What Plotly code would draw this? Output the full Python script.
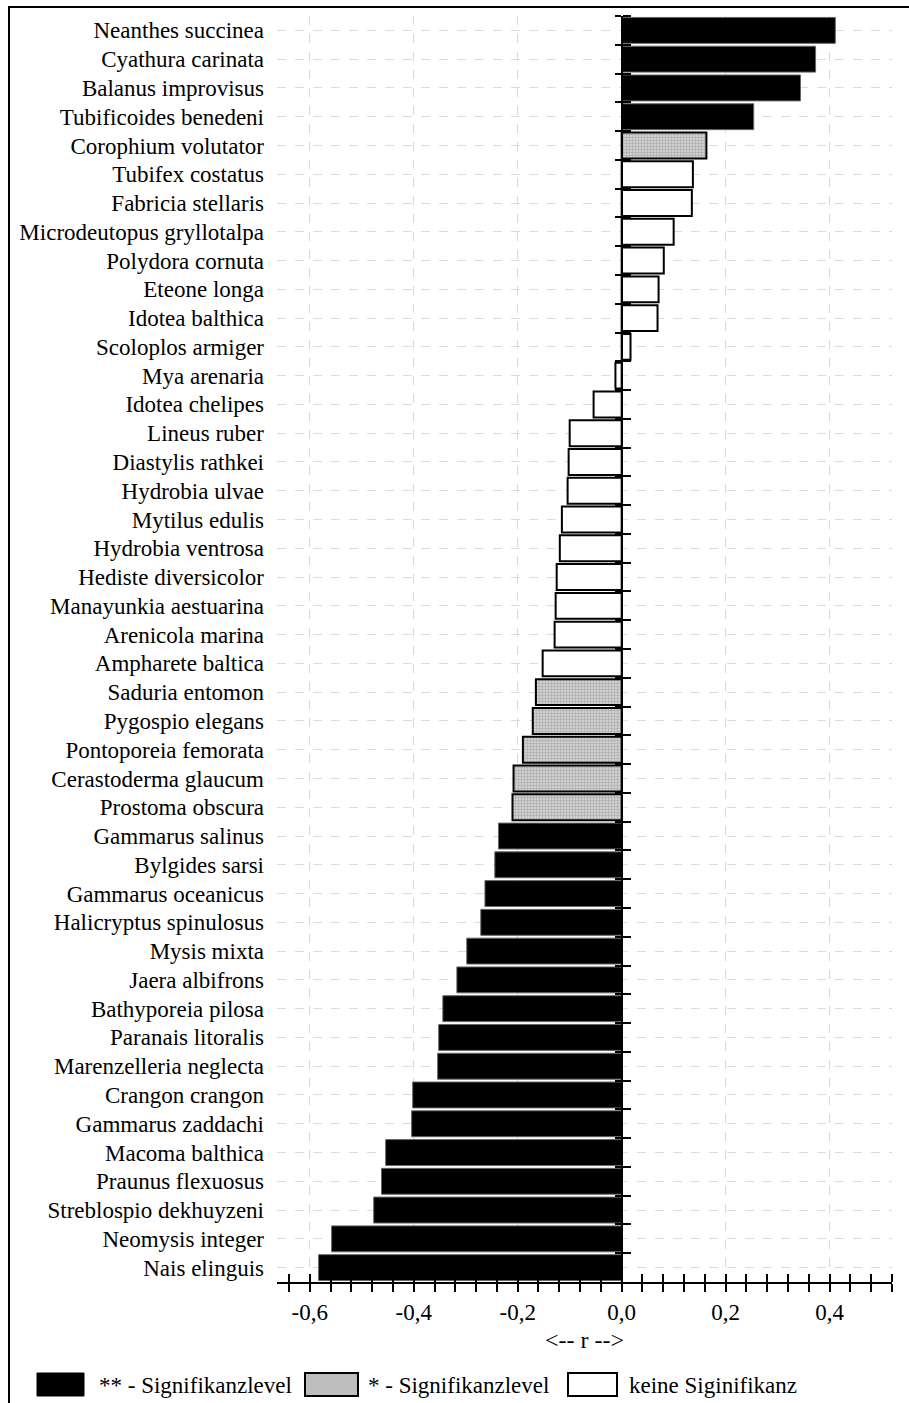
import plotly.graph_objects as go

# ---------------- data ----------------
species = [
    "Neanthes succinea", "Cyathura carinata", "Balanus improvisus", "Tubificoides benedeni",
    "Corophium volutator", "Tubifex costatus", "Fabricia stellaris", "Microdeutopus gryllotalpa",
    "Polydora cornuta", "Eteone longa", "Idotea balthica", "Scoloplos armiger", "Mya arenaria",
    "Idotea chelipes", "Lineus ruber", "Diastylis rathkei", "Hydrobia ulvae", "Mytilus edulis",
    "Hydrobia ventrosa", "Hediste diversicolor", "Manayunkia aestuarina", "Arenicola marina",
    "Ampharete baltica", "Saduria entomon", "Pygospio elegans", "Pontoporeia femorata",
    "Cerastoderma glaucum", "Prostoma obscura", "Gammarus salinus", "Bylgides sarsi",
    "Gammarus oceanicus", "Halicryptus spinulosus", "Mysis mixta", "Jaera albifrons",
    "Bathyporeia pilosa", "Paranais litoralis", "Marenzelleria neglecta", "Crangon crangon",
    "Gammarus zaddachi", "Macoma balthica", "Praunus flexuosus", "Streblospio dekhuyzeni",
    "Neomysis integer", "Nais elinguis",
]
r_values = [
    0.411, 0.373, 0.344, 0.254,
    0.163, 0.137, 0.135, 0.100,
    0.081, 0.071, 0.069, 0.017, -0.012,
    -0.054, -0.100, -0.102, -0.104, -0.115,
    -0.119, -0.125, -0.127, -0.129,
    -0.152, -0.165, -0.171, -0.190,
    -0.208, -0.210, -0.237, -0.244,
    -0.263, -0.271, -0.298, -0.317,
    -0.344, -0.352, -0.354, -0.402,
    -0.404, -0.454, -0.462, -0.477,
    -0.558, -0.583,
]
# 2 = ** significance, 1 = * significance, 0 = none
signif = [2, 2, 2, 2, 1] + [0] * 18 + [1] * 5 + [2] * 16
level_names = ["** - Signifikanzlevel", "* - Signifikanzlevel", "keine Siginifikanz"]
x_tickvals = [-0.6, -0.4, -0.2, 0.0, 0.2, 0.4]
x_ticktext = ["-0,6", "-0,4", "-0,2", "0,0", "0,2", "0,4"]
axis_title = "<-- r -->"

# ---------------- layout geometry ----------------
W, H = 909, 1403
PL, PR, PT, PB = 277, 892, 16, 1282
x_range = [-0.663, 0.52]
n = len(species)
y_range = [n - 0.5, -0.5]
FONT = "Liberation Serif"


def px(xp):
    return (xp - PL) / (PR - PL)


def py(yp):
    return (PB - yp) / (PB - PT)


styles = {
    2: dict(color="black", line=dict(color="#666666", width=1)),
    1: dict(color="#c8c8c8", line=dict(color="black", width=2),
            pattern=dict(shape="+", fgcolor="#888888", bgcolor="#d0d0d0", size=3, solidity=0.4)),
    0: dict(color="white", line=dict(color="black", width=2)),
}

fig = go.Figure()
for lvl, name in zip([2, 1, 0], level_names):
    ys = [s for s, g in zip(species, signif) if g == lvl]
    xs = [v for v, g in zip(r_values, signif) if g == lvl]
    fig.add_trace(go.Bar(x=xs, y=ys, orientation="h", name=name, width=0.9,
                         marker=styles[lvl], showlegend=False))

# empty traces to attach the overlay axes (tick crossings)
fig.add_trace(go.Scatter(x=[], y=[], xaxis="x2", yaxis="y", showlegend=False, hoverinfo="skip"))
fig.add_trace(go.Scatter(x=[], y=[], xaxis="x", yaxis="y2", showlegend=False, hoverinfo="skip"))
fig.add_trace(go.Scatter(x=[], y=[], xaxis="x", yaxis="y3", showlegend=False, hoverinfo="skip"))

zero_pos = (0 - x_range[0]) / (x_range[1] - x_range[0])
boundaries = [i - 0.5 for i in range(n)]

minor_common = dict(tickmode="linear", tick0=0, dtick=0.04, ticklen=8, tickwidth=2,
                    tickcolor="black", showgrid=False)

fig.update_layout(
    width=W, height=H,
    margin=dict(l=PL, r=W - PR, t=PT, b=H - PB),
    paper_bgcolor="white", plot_bgcolor="white",
    barmode="overlay",
    font=dict(family=FONT, color="black", size=22),
    xaxis=dict(range=x_range, tickmode="array", tickvals=x_tickvals, ticktext=x_ticktext,
               ticks="", showline=True, linecolor="black", linewidth=2, zeroline=False,
               showgrid=True, gridcolor="#d8d8d8", griddash="dash", gridwidth=1,
               tickfont=dict(size=23), ticklabelstandoff=8,
               minor=dict(ticks="outside", **minor_common),
               title=dict(text=axis_title, font=dict(size=24), standoff=8)),
    xaxis2=dict(range=x_range, overlaying="x", anchor="y", side="bottom",
                tickmode="array", tickvals=x_tickvals, ticks="", showticklabels=False,
                showline=False, showgrid=False, zeroline=False,
                minor=dict(ticks="inside", **minor_common)),
    yaxis=dict(type="category", categoryorder="array", categoryarray=species, range=y_range,
               ticks="", showline=False, showgrid=True, gridcolor="#dcdcdc", griddash="dash",
               gridwidth=1, tickfont=dict(size=23), ticklabelstandoff=12, zeroline=False),
    yaxis2=dict(range=y_range, overlaying="y", anchor="free", position=zero_pos, side="left",
                tickmode="array", tickvals=boundaries, ticks="outside", ticklen=6, tickwidth=2,
                tickcolor="black", showticklabels=False, showgrid=False, zeroline=False,
                showline=True, linecolor="black", linewidth=2),
    yaxis3=dict(range=y_range, overlaying="y", anchor="free", position=zero_pos, side="right",
                tickmode="array", tickvals=boundaries, ticks="outside", ticklen=8, tickwidth=2,
                tickcolor="black", showticklabels=False, showgrid=False, zeroline=False,
                showline=False),
)

# outer frame
fig.add_shape(type="rect", xref="paper", yref="paper",
              x0=px(9), x1=px(930), y0=py(1430), y1=py(7),
              line=dict(color="black", width=2), fillcolor="rgba(0,0,0,0)", layer="above")

# legend (drawn manually to match the large swatches)
legend_boxes = [(37, 84), (305, 358), (568, 617)]
legend_text_x = [97, 366, 627]
for lvl, (x0, x1), tx, name in zip([2, 1, 0], legend_boxes, legend_text_x, level_names):
    st = styles[lvl]
    fig.add_shape(type="rect", xref="paper", yref="paper",
                  x0=px(x0), x1=px(x1), y0=py(1396), y1=py(1373),
                  line=dict(color="black", width=2 if lvl != 2 else 1),
                  fillcolor=("#bdbdbd" if lvl == 1 else st["color"]))
    fig.add_annotation(x=px(tx), y=py(1385), xref="paper", yref="paper", text=name,
                       showarrow=False, xanchor="left", yanchor="middle",
                       font=dict(size=23, family=FONT, color="black"))

fig.write_html(
    "out.html",
    config={"displayModeBar": False},
    post_script="document.body.style.margin='0';document.body.style.overflow='hidden';",
)
